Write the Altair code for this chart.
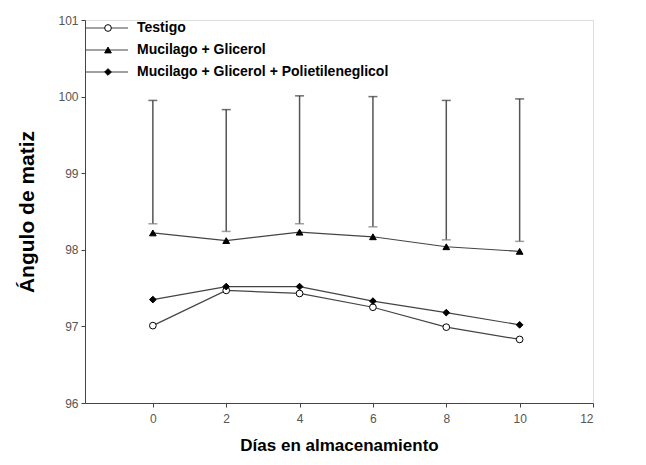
import altair as alt
import pandas as pd

dias = [0, 2, 4, 6, 8, 10]
testigo = [97.01, 97.47, 97.43, 97.25, 96.99, 96.83]
muc_gli = [98.22, 98.12, 98.23, 98.17, 98.04, 97.98]
muc_gli_peg = [97.35, 97.52, 97.52, 97.33, 97.18, 97.02]
err_low = [98.34, 98.24, 98.34, 98.30, 98.13, 98.11]
err_high = [99.95, 99.83, 100.01, 100.00, 99.95, 99.97]

series_names = ["Testigo", "Mucilago + Glicerol", "Mucilago + Glicerol + Polietileneglicol"]
shapes = ["circle", "triangle-up", "diamond"]
fills = ["white", "black", "black"]

rows = []
for name, vals in zip(series_names, [testigo, muc_gli, muc_gli_peg]):
    for d, v in zip(dias, vals):
        rows.append({"dia": d, "valor": v, "serie": name})
df = pd.DataFrame(rows)
err = pd.DataFrame({"dia": dias, "lo": err_low, "hi": err_high})

xscale = alt.Scale(domain=[-1.85, 12], nice=False, zero=False)
yscale = alt.Scale(domain=[96, 101], nice=False, zero=False)

xaxis = alt.Axis(values=[0, 2, 4, 6, 8, 10, 12], format="d", title="Días en almacenamiento", grid=False,
                 tickSize=4, labelColor="#555", labelFontSize=12, labelFont="Liberation Sans",
                 titleFont="Liberation Sans", titleFontSize=17, titleFontWeight="bold",
                 titlePadding=13, domainColor="#444", tickColor="#444", labelPadding=6)
yaxis = alt.Axis(values=[96, 97, 98, 99, 100, 101], format="d", title="Ángulo de matiz", grid=False,
                 tickSize=4, labelColor="#555", labelFontSize=12, labelFont="Liberation Sans",
                 titleFont="Liberation Sans", titleFontSize=21, titleFontWeight="bold",
                 titlePadding=20, domainColor="#444", tickColor="#444", labelPadding=3)

shape_scale = alt.Scale(domain=series_names, range=shapes)
fill_scale = alt.Scale(domain=series_names, range=fills)

ebase = alt.Chart(err)
erule = ebase.mark_rule(color="#555", strokeWidth=1.5).encode(
    x=alt.X("dia:Q", scale=xscale, axis=xaxis),
    y=alt.Y("lo:Q", scale=yscale, axis=yaxis), y2="hi:Q")
ecap_hi = ebase.mark_tick(color="#333", orient="horizontal", size=9, thickness=1.5).encode(
    x=alt.X("dia:Q", scale=xscale), y=alt.Y("hi:Q", scale=yscale))
ecap_lo = ebase.mark_tick(color="#777", orient="horizontal", size=9, thickness=1.5).encode(
    x=alt.X("dia:Q", scale=xscale), y=alt.Y("lo:Q", scale=yscale))

base = alt.Chart(df)
lines = base.mark_line(color="#444", strokeWidth=1.2).encode(
    x=alt.X("dia:Q", scale=xscale),
    y=alt.Y("valor:Q", scale=yscale),
    detail="serie:N",
)
points = base.mark_point(size=45, stroke="black", strokeWidth=1, opacity=1).encode(
    x=alt.X("dia:Q", scale=xscale),
    y=alt.Y("valor:Q", scale=yscale),
    shape=alt.Shape("serie:N", scale=shape_scale, legend=None),
    fill=alt.Fill("serie:N", scale=fill_scale, legend=None),
)

# custom legend inside the plot, top-left
leg = pd.DataFrame({"serie": series_names})
legend_layers = []
for i, name in enumerate(series_names):
    ypx = 8 + 22 * i
    lb = alt.Chart(leg).transform_filter(alt.datum.serie == name)
    legend_layers.append(lb.mark_rule(color="#444", strokeWidth=1.2).encode(
        x=alt.value(0), x2=alt.value(43), y=alt.value(ypx)))
    legend_layers.append(lb.mark_point(size=45, stroke="black", strokeWidth=1, opacity=1,
                                       shape=shapes[i], fill=fills[i]).encode(
        x=alt.value(23), y=alt.value(ypx)))
    legend_layers.append(lb.mark_text(align="left", baseline="middle", font="Liberation Sans",
                                      fontSize=14, fontWeight="bold", color="black").encode(
        x=alt.value(52), y=alt.value(ypx), text="serie:N"))

chart = alt.layer(erule, ecap_hi, ecap_lo, lines, points, *legend_layers).properties(
    width=508, height=383,
    autosize=alt.AutoSizeParams(type="none"),
    padding={"left": 77, "top": 12, "right": 40, "bottom": 54},
).configure_view(stroke="#444", strokeWidth=1).configure(background="white")

chart.save("out.html", embed_options={"renderer": "svg", "actions": False})
